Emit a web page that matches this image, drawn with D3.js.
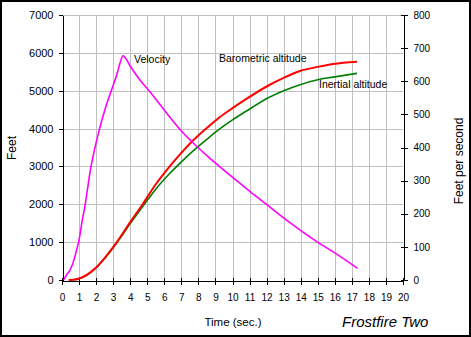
<!DOCTYPE html>
<html>
<head>
<meta charset="utf-8">
<script src="https://cdn.jsdelivr.net/npm/d3@7"></script>
<style>
  html, body { margin: 0; padding: 0; background: #fff; }
  svg { display: block; font-family: "Liberation Sans", Arial, sans-serif; }
</style>
</head>
<body>
<svg id="chart" width="471" height="337"></svg>
<script>
// Flight time (s) and speed (ft/s) for the velocity trace
const velocityTime = [0.1, 0.27, 0.47, 0.7, 0.86, 1.0, 1.19, 1.31, 1.7, 2.17, 2.52, 2.91, 3.24, 3.4, 3.58, 3.8, 4.0, 4.57, 5.0, 5.55, 6.0, 6.43, 7.0, 7.61, 8.68, 10.15, 11.0, 12.0, 13.37, 15.03, 16.0, 17.34];
const velocity     = [0, 15, 30, 60, 91, 121, 181, 213, 342, 450, 515, 574, 624, 654, 677, 664, 646, 604, 578, 543, 513, 485, 450, 418, 367, 304, 268, 228, 173, 113, 82, 35];

// Flight time (s) and altitude (ft) for the two altitude traces
const altitudeTime        = [0.4, 0.8, 1.0, 1.5, 2.0, 2.5, 3.0, 3.5, 4.0, 4.7, 5.5, 6.33, 7.0, 7.61, 8.68, 9.25, 10.0, 10.77, 12.16, 13.0, 13.96, 15.0, 15.91, 17.3];
const barometricAltitude  = [0, 15, 40, 150, 330, 580, 870, 1190, 1530, 1980, 2530, 3011, 3360, 3653, 4090, 4300, 4540, 4770, 5151, 5340, 5521, 5630, 5706, 5766];
const inertialAltitude    = [0, 15, 35, 140, 320, 570, 850, 1160, 1490, 1920, 2400, 2818, 3120, 3380, 3785, 3990, 4230, 4450, 4826, 5000, 5160, 5290, 5360, 5460];

// Axis ticks
const timeTicks = d3.range(0, 21, 1);
const feetTicks = d3.range(0, 7001, 1000);
const speedTicks = d3.range(0, 801, 100);

const svg = d3.select("#chart");
const W = 471, H = 337;
const plot = { left: 62, right: 403, top: 15, bottom: 280 };

const x = d3.scaleLinear().domain([0, 20]).range([plot.left, plot.right]);
const yFeet = d3.scaleLinear().domain([0, 7000]).range([plot.bottom, plot.top]);
const ySpeed = d3.scaleLinear().domain([0, 800]).range([plot.bottom, plot.top]);

// White background
svg.append("rect").attr("width", W).attr("height", H).attr("fill", "#fff");

// Gridlines
const grid = svg.append("g").attr("stroke", "#c0c0c0").attr("stroke-width", 1).attr("shape-rendering", "crispEdges");
grid.selectAll("line.v").data(timeTicks.filter(t => t > 0 && t < 20)).join("line")
  .attr("x1", d => Math.round(x(d)) + 0.5).attr("x2", d => Math.round(x(d)) + 0.5)
  .attr("y1", plot.top).attr("y2", plot.bottom);
grid.selectAll("line.h").data(feetTicks.filter(v => v > 0)).join("line")
  .attr("x1", plot.left).attr("x2", plot.right)
  .attr("y1", d => Math.round(yFeet(d)) + 0.5).attr("y2", d => Math.round(yFeet(d)) + 0.5);

// Axes
const tickFont = "10px";
const leftAxis = svg.append("g")
  .attr("transform", `translate(${plot.left + 0.5},0)`)
  .call(d3.axisLeft(yFeet).tickValues(feetTicks).tickFormat(d3.format("d"))
    .tickSize(4).tickPadding(5).tickSizeOuter(0));
leftAxis.selectAll("text").attr("font-size", "11px");

const rightAxis = svg.append("g")
  .attr("transform", `translate(${plot.right + 0.5},0)`)
  .call(d3.axisRight(ySpeed).tickValues(speedTicks).tickFormat(d3.format("d"))
    .tickSize(4).tickPadding(6).tickSizeOuter(0));
rightAxis.selectAll(".tick line").attr("x1", -3);
rightAxis.selectAll("text").attr("font-size", tickFont);

const bottomAxis = svg.append("g")
  .attr("transform", `translate(0,${plot.bottom + 0.5})`)
  .call(d3.axisBottom(x).tickValues(timeTicks).tickFormat(d3.format("d"))
    .tickSize(4).tickPadding(9).tickSizeOuter(0));
bottomAxis.selectAll(".tick line").attr("y1", -3);
bottomAxis.selectAll("text").attr("font-size", tickFont);

[leftAxis, rightAxis, bottomAxis].forEach(a => {
  a.attr("font-family", null);
  a.selectAll("path, line").attr("stroke", "#000").attr("shape-rendering", "crispEdges");
  a.selectAll("text").attr("fill", "#000");
});

// Data lines
const altLine = vals => d3.line()
  .x((d, i) => x(altitudeTime[i]))
  .y(d => yFeet(d))
  .curve(d3.curveMonotoneX)(vals);

const speedLine = d3.line()
  .x((d, i) => x(velocityTime[i]))
  .y(d => ySpeed(d))
  .curve(d3.curveMonotoneX);

svg.append("path").attr("d", altLine(inertialAltitude))
  .attr("fill", "none").attr("stroke", "#008000").attr("stroke-width", 1.6);
svg.append("path").attr("d", altLine(barometricAltitude))
  .attr("fill", "none").attr("stroke", "#ff0000").attr("stroke-width", 2);
svg.append("path").attr("d", speedLine(velocity))
  .attr("fill", "none").attr("stroke", "#ff00ff").attr("stroke-width", 1.6);

// Series labels
const labels = svg.append("g").attr("font-size", "10.5px").attr("fill", "#000");
labels.append("text").attr("x", 134).attr("y", 63).text("Velocity");
labels.append("text").attr("x", 219).attr("y", 62).text("Barometric altitude");
labels.append("text").attr("x", 319).attr("y", 88).text("Inertial altitude");

// Axis titles
svg.append("text").attr("transform", "translate(16,148) rotate(-90)")
  .attr("text-anchor", "middle").attr("font-size", "12px").text("Feet");
svg.append("text").attr("transform", "translate(463,161) rotate(-90)")
  .attr("text-anchor", "middle").attr("font-size", "12px").text("Feet per second");
svg.append("text").attr("x", 233).attr("y", 326)
  .attr("text-anchor", "middle").attr("font-size", "11.5px").text("Time (sec.)");
svg.append("text").attr("x", 342).attr("y", 326.5)
  .attr("font-size", "15px").attr("font-style", "italic").text("Frostfire Two");

// Outer frame
svg.append("rect").attr("x", 1).attr("y", 1).attr("width", W - 2).attr("height", H - 2)
  .attr("fill", "none").attr("stroke", "#000").attr("stroke-width", 2);
</script>
</body>
</html>
